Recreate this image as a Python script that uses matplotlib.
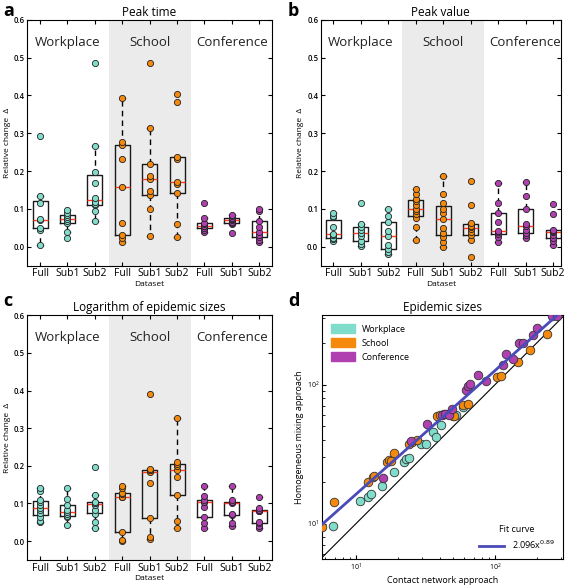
import numpy as np
import matplotlib.pyplot as plt
from matplotlib.patches import Patch
from matplotlib.lines import Line2D

plt.rcParams['font.family'] = ['Open Sans', 'DejaVu Sans']

groups = ['Workplace', 'School', 'Conference']
subsets = ['Full', 'Sub1', 'Sub2']
colors = ['#80dccb', '#f5890c', '#b040b0']

# panel a: peak time, relative change per dataset (Full, Sub1, Sub2)
peak_time_work = [[0.005, 0.045, 0.05, 0.07, 0.072, 0.115, 0.135, 0.293],
                  [0.022, 0.04, 0.063, 0.068, 0.074, 0.078, 0.085, 0.09, 0.097],
                  [0.068, 0.094, 0.11, 0.113, 0.119, 0.13, 0.169, 0.198, 0.266, 0.485]]
peak_time_school = [[0.013, 0.022, 0.031, 0.063, 0.159, 0.232, 0.269, 0.278, 0.394],
                    [0.029, 0.1, 0.137, 0.148, 0.178, 0.187, 0.218, 0.315, 0.485],
                    [0.025, 0.06, 0.143, 0.165, 0.171, 0.232, 0.238, 0.382, 0.404]]
peak_time_conf = [[0.038, 0.045, 0.05, 0.054, 0.056, 0.06, 0.063, 0.075, 0.115],
                  [0.037, 0.06, 0.063, 0.066, 0.07, 0.072, 0.077, 0.08, 0.084],
                  [0.013, 0.018, 0.025, 0.03, 0.039, 0.051, 0.067, 0.095, 0.1]]

# panel b: peak value
peak_value_work = [[0.016, 0.02, 0.022, 0.03, 0.032, 0.034, 0.053, 0.078, 0.082, 0.088],
                   [0.003, 0.008, 0.016, 0.028, 0.037, 0.045, 0.053, 0.06, 0.115],
                   [-0.019, -0.015, -0.006, 0.005, 0.027, 0.042, 0.064, 0.082, 0.101]]
peak_value_school = [[0.019, 0.051, 0.076, 0.086, 0.095, 0.1, 0.11, 0.122, 0.126, 0.139, 0.152],
                     [0.0, 0.012, 0.025, 0.035, 0.05, 0.072, 0.09, 0.1, 0.115, 0.139, 0.188],
                     [-0.028, 0.019, 0.03, 0.038, 0.047, 0.052, 0.056, 0.063, 0.111, 0.174]]
peak_value_conf = [[0.013, 0.026, 0.033, 0.038, 0.042, 0.064, 0.09, 0.115, 0.168],
                   [0.023, 0.03, 0.036, 0.045, 0.055, 0.06, 0.1, 0.135, 0.172],
                   [0.005, 0.016, 0.023, 0.03, 0.04, 0.042, 0.044, 0.086, 0.113]]

# panel c: logarithm of epidemic sizes
log_size_work = [[0.05, 0.054, 0.065, 0.075, 0.082, 0.087, 0.096, 0.104, 0.109, 0.134, 0.14],
                 [0.042, 0.065, 0.066, 0.072, 0.076, 0.082, 0.096, 0.113, 0.14],
                 [0.035, 0.051, 0.072, 0.082, 0.096, 0.1, 0.102, 0.104, 0.122, 0.196]]
log_size_school = [[0.001, 0.003, 0.023, 0.116, 0.118, 0.125, 0.129, 0.14, 0.147],
                   [0.005, 0.011, 0.06, 0.155, 0.183, 0.188, 0.19, 0.192, 0.39],
                   [0.035, 0.054, 0.122, 0.17, 0.188, 0.2, 0.206, 0.21, 0.326]]
log_size_conf = [[0.035, 0.047, 0.065, 0.09, 0.103, 0.105, 0.11, 0.12, 0.146],
                 [0.04, 0.049, 0.069, 0.073, 0.102, 0.103, 0.104, 0.109, 0.146],
                 [0.034, 0.04, 0.049, 0.05, 0.08, 0.081, 0.082, 0.087, 0.118]]

# panel d: epidemic sizes, contact network (x) vs homogeneous mixing (y)
work_x = [6.8, 10.7, 12.1, 12.8, 15.3, 18.6, 22.1, 22.8, 24.2, 29.4, 31.9, 36.0, 37.4, 40.6, 50.1, 52.1, 58.5]
work_y = [9.6, 14.5, 15.4, 16.3, 18.7, 23.5, 27.5, 28.9, 29.6, 37.2, 37.6, 45.2, 42.0, 50.9, 59.2, 60.1, 68.4]
school_x = [5.67, 6.95, 12.2, 13.3, 13.5, 16.6, 17.3, 17.9, 18.6, 24.1, 25.1, 27.3, 38, 40, 43, 47.5,
            50.7, 58.5, 64.2, 102.8, 109.8, 145.6, 178.6, 235]
school_y = [9.5, 14.3, 20, 21.5, 22, 27.9, 28.8, 28.3, 32.3, 37.2, 38.6, 40.1, 59, 60.8, 61.2, 62.6,
            59.2, 71, 72.3, 113.5, 115.4, 145.6, 176.6, 232.6]
conf_x = [15.7, 24.9, 32.2, 41.4, 43.7, 46.5, 48.9, 61.8, 64.2, 66.0, 75.9, 86.0, 114.8, 120, 134,
          149.6, 160, 186.6, 201.6, 256, 277.8]
conf_y = [21.1, 39.1, 52.4, 60, 61.8, 60, 66.6, 92, 97.2, 100.5, 116.6, 105.7, 137.7, 165, 153.8,
          200.5, 200.5, 226.5, 257, 310, 310]
fit_a, fit_b = 2.096, 0.89


def box_panel(ax, data_groups, title, xlim):
    data = [d for g in data_groups for d in g]
    pos = np.arange(len(data))
    ax.axvspan(2.5, 5.5, color='#ebebeb', zorder=0, lw=0)
    ax.boxplot(data, positions=pos, widths=0.55, whis=1.5, showfliers=False,
               capwidths=0.2,
               boxprops=dict(color='#1a1a1a', lw=1),
               whiskerprops=dict(color='black', lw=1, linestyle=(0, (4, 3))),
               capprops=dict(color='black', lw=1),
               medianprops=dict(color='#ff3b1f', lw=1), zorder=2)
    for i, d in enumerate(data):
        ax.scatter(np.full(len(d), pos[i]), d, s=20, color=colors[i // 3],
                   edgecolor='#222222', lw=0.6, zorder=3)
    for k, g in enumerate(groups):
        ax.text(3 * k + 1, 0.54, g, ha='center', va='center', fontsize=9.5, color='#222222')
    ax.set_xlim(*xlim)
    ax.set_ylim(-0.05, 0.6)
    ax.set_xticks(pos)
    ax.set_xticklabels(subsets * 3, fontsize=7.5)
    ax.set_yticks(np.arange(0, 0.61, 0.1))
    ax.set_yticklabels(['%.1f' % v for v in np.arange(0, 0.61, 0.1)], fontsize=5.5,
                       fontweight='semibold')
    ax.tick_params(direction='in', top=True, right=True, length=3, pad=2)
    ax.set_xlabel('Dataset', fontsize=6, labelpad=1)
    ax.set_ylabel('Relative change  Δ', fontsize=6, labelpad=2)
    ax.set_title(title, fontsize=8.5, pad=3)


fig = plt.figure(figsize=(5.67, 5.85), dpi=100)
ax_a = fig.add_axes([0.048, 0.546, 0.431, 0.42])
ax_b = fig.add_axes([0.566, 0.546, 0.423, 0.42])
ax_c = fig.add_axes([0.048, 0.043, 0.431, 0.418])
ax_d = fig.add_axes([0.568, 0.044, 0.425, 0.417])

box_panel(ax_a, [peak_time_work, peak_time_school, peak_time_conf], 'Peak time', (-0.47, 8.45))
box_panel(ax_b, [peak_value_work, peak_value_school, peak_value_conf], 'Peak value', (-0.45, 8.28))
box_panel(ax_c, [log_size_work, log_size_school, log_size_conf], 'Logarithm of epidemic sizes', (-0.47, 8.45))

# panel d
xlim = (5.69, 308)
ylim = (5.53, 315)
ax_d.plot(xlim, xlim, color='black', lw=0.8, zorder=1)
xs = np.logspace(np.log10(xlim[0]), np.log10(xlim[1]), 50)
ax_d.plot(xs, fit_a * xs ** fit_b, color='#4a4ab8', lw=2, zorder=4)
for x, y, c in [(work_x, work_y, colors[0]), (school_x, school_y, colors[1]), (conf_x, conf_y, colors[2])]:
    ax_d.scatter(x, y, s=38, color=c, edgecolor='#333333', lw=0.6, zorder=3)
ax_d.set_xscale('log')
ax_d.set_yscale('log')
ax_d.set_xlim(*xlim)
ax_d.set_ylim(*ylim)
ax_d.tick_params(which='both', direction='in', labelsize=5, pad=2)
ax_d.tick_params(which='major', length=3)
ax_d.tick_params(which='minor', length=1.8)
ax_d.set_xlabel('Contact network approach', fontsize=6.5, labelpad=2)
ax_d.set_ylabel('Homogeneous mixing approach', fontsize=6.5, labelpad=2)
ax_d.set_title('Epidemic sizes', fontsize=8.5, pad=3)
handles = [Patch(color=c, label=g) for c, g in zip(colors, groups)]
leg1 = ax_d.legend(handles=handles, loc='upper left', frameon=False, fontsize=6.5,
                   handlelength=2.6, handleheight=1.1, borderaxespad=0.6, labelspacing=0.5)
ax_d.add_artist(leg1)
ax_d.legend(handles=[Line2D([], [], color='#4a4ab8', lw=2)], labels=[r'2.096x$^{0.89}$'],
            title='Fit curve', loc='lower right', frameon=False, fontsize=6.5,
            title_fontsize=6.5, handlelength=2.8)

for lab, x, y in [('a', 0.005, 0.997), ('b', 0.508, 0.997), ('c', 0.005, 0.5), ('d', 0.508, 0.5)]:
    fig.text(x, y, lab, fontsize=13, fontweight='bold', ha='left', va='top')

fig.savefig('out.png', dpi=100)
